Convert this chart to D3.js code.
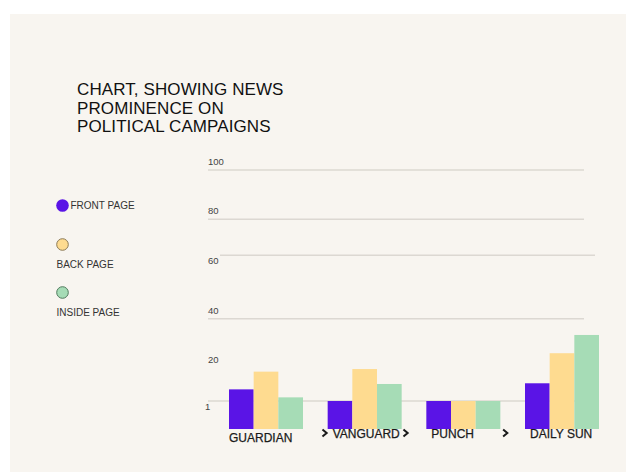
<!DOCTYPE html>
<html>
<head>
<meta charset="utf-8">
<script src="https://cdn.jsdelivr.net/npm/d3@7"></script>
<style>
  html, body { margin: 0; padding: 0; background: #fff; }
  #chart { width: 626px; height: 472px; }
  text { font-family: "Liberation Sans", Arial, sans-serif; }
</style>
</head>
<body>
<div id="chart"></div>
<script>
// data
const papers = ["GUARDIAN", "VANGUARD", "PUNCH", "DAILY SUN"];
const pageTypes = ["FRONT PAGE", "BACK PAGE", "INSIDE PAGE"];
const frontPage = [7.7, 1, 1, 11.2];
const backPage = [17.9, 19.4, 1, 26];
const insidePage = [3.1, 10.8, 1, 33.4];
const tickValues = [100, 80, 60, 40, 20, 1];
const titleLines = ["CHART, SHOWING NEWS", "PROMINENCE ON", "POLITICAL CAMPAIGNS"];

const width = 626;
const height = 472;

const svg = d3.select('#chart')
  .append("svg")
  .attr('width', width)
  .attr('height', height)
  .attr('viewBox', [0, 0, width, height]);

// card
svg.append("rect")
  .attr('x', 10)
  .attr('y', 14)
  .attr('width', width - 10)
  .attr('height', height - 14)
  .attr('fill', "#f8f5f0");

const colorScale = d3.scaleOrdinal()
  .domain(pageTypes)
  .range(["#5a14e6", "#fedb90", "#a6dcb6"]);

// the original axis is not evenly spaced, so map it piece by piece
const y = d3.scaleLinear()
  .domain([0, 1, 20, 40, 60, 80, 100])
  .range([429, 401, 368, 318.7, 255.3, 219.3, 170]);

const x0 = d3.scaleBand()
  .domain(papers)
  .range([229, 599])
  .paddingInner(0.25);

const x1 = d3.scaleBand()
  .domain(pageTypes)
  .range([0, x0.bandwidth()]);

// title
svg.append("text")
  .attr('x', 77)
  .attr('y', 95)
  .attr('fill', "#111")
  .style("font-size", "17px")
  .style("letter-spacing", "0.1px")
  .selectAll("tspan")
  .data(titleLines)
  .join("tspan")
  .attr('x', 77)
  .attr('dy', (d, i) => i ? 18.5 : 0)
  .text(d => d);

// grid
const gridG = svg.append("g").attr('class', "grid");
const lineValues = tickValues.filter(v => v !== 20);

gridG.selectAll("line")
  .data(lineValues)
  .join("line")
  .attr('x1', d => d === 60 ? 220 : 208)
  .attr('x2', d => d === 60 ? 595 : 584)
  .attr('y1', d => y(d))
  .attr('y2', d => y(d))
  .attr('stroke', "#dcd8d2")
  .attr('stroke-width', 1.5);

gridG.selectAll("text")
  .data(tickValues)
  .join("text")
  .attr('x', d => d === 1 ? 205 : 208)
  .attr('y', d => (d === 60 || d === 1) ? y(d) + 9 : y(d) - 5)
  .attr('fill', "#444")
  .style("font-size", "9.5px")
  .text(d => d);

// bars
const rows = papers.map((p, i) => ({
  paper: p,
  values: [frontPage[i], backPage[i], insidePage[i]]
}));

const groups = svg.selectAll(".barGroup")
  .data(rows)
  .join("g")
  .attr('class', "barGroup")
  .attr('transform', d => `translate(${x0(d.paper)},0)`);

groups.selectAll("rect")
  .data(d => d.values.map((v, j) => ({ key: pageTypes[j], value: v })))
  .join("rect")
  .attr('x', d => x1(d.key))
  .attr('width', x1.bandwidth())
  .attr('y', d => y(d.value))
  .attr('height', d => y(0) - y(d.value))
  .attr('fill', d => colorScale(d.key));

// paper names
svg.selectAll(".paperLabel")
  .data(papers)
  .join("text")
  .attr('class', "paperLabel")
  .attr('x', (d, i) => x0(d) + (i ? 5 : 0))
  .attr('y', (d, i) => i === 0 ? 442 : 437.5)
  .attr('fill', "#1a1a1a")
  .attr('stroke', "#1a1a1a")
  .attr('stroke-width', 0.25)
  .style("font-size", "12px")
  .text(d => d);

// little arrows between the names
const chevronX = [x0("VANGUARD") - 3, x0("VANGUARD") + x0.bandwidth() + 4, x0("PUNCH") + x0.bandwidth() + 5];
svg.selectAll(".chevron")
  .data(chevronX)
  .join("path")
  .attr('class', "chevron")
  .attr('d', d => `M${d - 2.2},429.5 L${d + 2},433 L${d - 2.2},436.5`)
  .attr('fill', "none")
  .attr('stroke', "#1a1a1a")
  .attr('stroke-width', 2);

// legend
const legendY = [205.5, 244.5, 292.5];
const legend = svg.append("g").attr('class', "legend");

legend.selectAll("circle")
  .data(pageTypes)
  .join("circle")
  .attr('cx', 62.5)
  .attr('cy', (d, i) => legendY[i])
  .attr('r', (d, i) => i ? 5.8 : 6.3)
  .attr('fill', d => colorScale(d))
  .attr('stroke', (d, i) => ["#5a14e6", "#8c7a55", "#4f7a5c"][i])
  .attr('stroke-width', (d, i) => i ? 1 : 0);

legend.selectAll("text")
  .data(pageTypes)
  .join("text")
  .attr('x', (d, i) => i ? 56.5 : 70.5)
  .attr('y', (d, i) => i ? legendY[i] + 23 : legendY[i] + 3.5)
  .attr('fill', "#333")
  .style("font-size", "10px")
  .text(d => d);
</script>
</body>
</html>
